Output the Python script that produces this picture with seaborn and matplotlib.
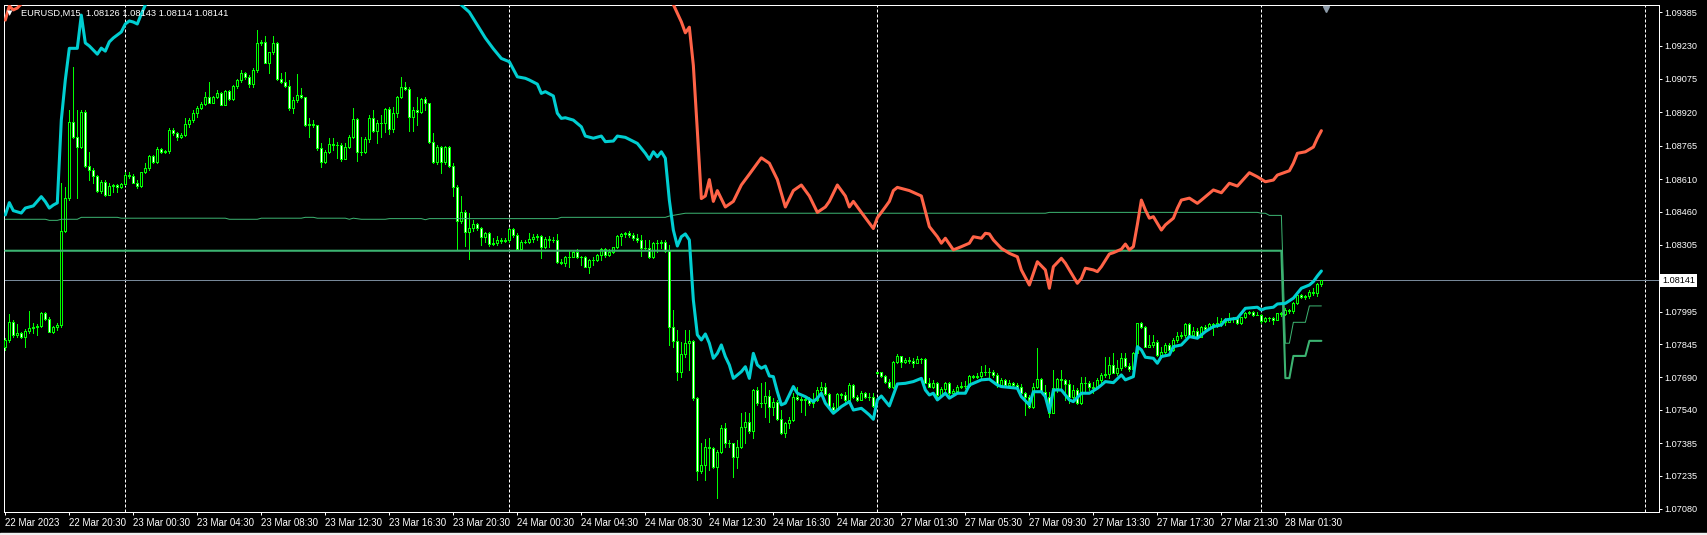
import numpy as np
import pandas as pd
import matplotlib
matplotlib.use("Agg")
import matplotlib.pyplot as plt
from matplotlib.transforms import blended_transform_factory
import seaborn as sns

# EURUSD M15, bar 0 = 22 Mar 16:30 (broker time), last bar = 28 Mar 03:45
symbol_text = "EURUSD,M15  1.08126 1.08143 1.08114 1.08141"

first_open = 1.07833
monday_open = 1.07709          # 27 Mar first bar opens with a gap

closes = [
    1.07864, 1.07949, 1.07887, 1.07895, 1.07876, 1.07907, 1.07918, 1.07923, 1.07929, 1.07988,
    1.07961, 1.07903, 1.07923, 1.07933, 1.08371, 1.08521, 1.08877, 1.08807, 1.08761, 1.08923,
    1.08673, 1.08652, 1.08625, 1.08556, 1.08595, 1.08536, 1.08580, 1.08583, 1.08572, 1.08586,
    1.08628, 1.08625, 1.08594, 1.08580, 1.08641, 1.08660, 1.08717, 1.08688, 1.08750, 1.08736,
    1.08740, 1.08838, 1.08822, 1.08804, 1.08815, 1.08864, 1.08884, 1.08915, 1.08938, 1.08958,
    1.08992, 1.08965, 1.08989, 1.09011, 1.08955, 1.09019, 1.08982, 1.09042, 1.09070, 1.09101,
    1.09082, 1.09050, 1.09116, 1.09243, 1.09248, 1.09150, 1.09198, 1.09244, 1.09076, 1.09062,
    1.09043, 1.08938, 1.08977, 1.08999, 1.08989, 1.08861, 1.08864, 1.08859, 1.08753, 1.08691,
    1.08737, 1.08773, 1.08770, 1.08767, 1.08704, 1.08758, 1.08804, 1.08888, 1.08735, 1.08738,
    1.08797, 1.08892, 1.08835, 1.08872, 1.08869, 1.08934, 1.08841, 1.08916, 1.08990, 1.09036,
    1.09027, 1.08900, 1.08931, 1.08923, 1.08981, 1.08962, 1.08781, 1.08691, 1.08761, 1.08691,
    1.08758, 1.08671, 1.08576, 1.08418, 1.08456, 1.08367, 1.08382, 1.08402, 1.08382, 1.08340,
    1.08359, 1.08309, 1.08316, 1.08328, 1.08324, 1.08327, 1.08378, 1.08351, 1.08285, 1.08320,
    1.08317, 1.08331, 1.08344, 1.08347, 1.08294, 1.08331, 1.08328, 1.08327, 1.08228, 1.08223,
    1.08248, 1.08251, 1.08274, 1.08248, 1.08249, 1.08204, 1.08235, 1.08235, 1.08257, 1.08285,
    1.08259, 1.08274, 1.08294, 1.08347, 1.08356, 1.08359, 1.08351, 1.08336, 1.08328, 1.08290,
    1.08293, 1.08248, 1.08313, 1.08316, 1.08320, 1.08278, 1.07923, 1.07861, 1.07717, 1.07799,
    1.07851, 1.07859, 1.07593, 1.07258, 1.07284, 1.07366, 1.07363, 1.07273, 1.07346, 1.07454,
    1.07385, 1.07385, 1.07323, 1.07369, 1.07459, 1.07485, 1.07443, 1.07632, 1.07570, 1.07570,
    1.07604, 1.07555, 1.07578, 1.07496, 1.07431, 1.07477, 1.07493, 1.07601, 1.07589, 1.07586,
    1.07590, 1.07570, 1.07586, 1.07632, 1.07647, 1.07613, 1.07555, 1.07539, 1.07613, 1.07607,
    1.07586, 1.07655, 1.07601, 1.07586, 1.07620, 1.07601, 1.07598, 1.07558, 1.07715, 1.07698,
    1.07671, 1.07644, 1.07763, 1.07790, 1.07763, 1.07771, 1.07766, 1.07759, 1.07777, 1.07776,
    1.07666, 1.07647, 1.07666, 1.07609, 1.07635, 1.07666, 1.07616, 1.07629, 1.07647, 1.07649,
    1.07651, 1.07697, 1.07694, 1.07695, 1.07717, 1.07714, 1.07715, 1.07701, 1.07655, 1.07678,
    1.07655, 1.07666, 1.07655, 1.07647, 1.07616, 1.07601, 1.07555, 1.07647, 1.07681, 1.07624,
    1.07598, 1.07524, 1.07640, 1.07681, 1.07678, 1.07660, 1.07601, 1.07632, 1.07573, 1.07663,
    1.07663, 1.07644, 1.07643, 1.07678, 1.07701, 1.07706, 1.07748, 1.07712, 1.07732, 1.07779,
    1.07743, 1.07728, 1.07802, 1.07941, 1.07922, 1.07833, 1.07840, 1.07856, 1.07794, 1.07810,
    1.07840, 1.07817, 1.07864, 1.07882, 1.07885, 1.07938, 1.07887, 1.07907, 1.07879, 1.07922,
    1.07916, 1.07938, 1.07932, 1.07941, 1.07953, 1.07947, 1.07963, 1.07960, 1.07941, 1.07969,
    1.07990, 1.07992, 1.07980, 1.07981, 1.07952, 1.07964, 1.07964, 1.07956, 1.07987, 1.07984,
    1.08003, 1.08000, 1.08037, 1.08072, 1.08065, 1.08066, 1.08088, 1.08080, 1.08126, 1.08141,
]

highs = [
    1.07872, 1.07984, 1.07957, 1.07938, 1.07903, 1.07913, 1.08000, 1.07941, 1.07938, 1.07995,
    1.07992, 1.07969, 1.07929, 1.07941, 1.08590, 1.08575, 1.08931, 1.09132, 1.08931, 1.08931,
    1.08931, 1.08737, 1.08660, 1.08629, 1.08606, 1.08606, 1.08590, 1.08587, 1.08586, 1.08590,
    1.08645, 1.08645, 1.08634, 1.08606, 1.08645, 1.08683, 1.08722, 1.08722, 1.08761, 1.08753,
    1.08745, 1.08846, 1.08846, 1.08830, 1.08822, 1.08892, 1.08892, 1.08931, 1.08949, 1.08969,
    1.09016, 1.09062, 1.08995, 1.09023, 1.09016, 1.09023, 1.09023, 1.09047, 1.09077, 1.09116,
    1.09108, 1.09093, 1.09124, 1.09302, 1.09255, 1.09274, 1.09201, 1.09274, 1.09248, 1.09101,
    1.09108, 1.09070, 1.08992, 1.09096, 1.09031, 1.08992, 1.08892, 1.08884, 1.08861, 1.08776,
    1.08745, 1.08799, 1.08800, 1.08784, 1.08776, 1.08777, 1.08815, 1.08939, 1.08892, 1.08804,
    1.08804, 1.08908, 1.08931, 1.08885, 1.08908, 1.08939, 1.08943, 1.08947, 1.08996, 1.09083,
    1.09063, 1.09036, 1.08947, 1.08990, 1.08985, 1.08993, 1.08962, 1.08826, 1.08769, 1.08764,
    1.08764, 1.08764, 1.08684, 1.08582, 1.08532, 1.08467, 1.08452, 1.08421, 1.08409, 1.08390,
    1.08367, 1.08367, 1.08336, 1.08347, 1.08336, 1.08336, 1.08382, 1.08382, 1.08359, 1.08328,
    1.08328, 1.08359, 1.08356, 1.08356, 1.08351, 1.08344, 1.08347, 1.08344, 1.08356, 1.08238,
    1.08254, 1.08279, 1.08282, 1.08285, 1.08254, 1.08254, 1.08238, 1.08251, 1.08263, 1.08290,
    1.08290, 1.08285, 1.08297, 1.08351, 1.08362, 1.08367, 1.08371, 1.08359, 1.08356, 1.08351,
    1.08328, 1.08328, 1.08320, 1.08328, 1.08328, 1.08328, 1.08304, 1.08003, 1.07910, 1.07856,
    1.07910, 1.07910, 1.07864, 1.07601, 1.07385, 1.07403, 1.07408, 1.07369, 1.07354, 1.07470,
    1.07477, 1.07400, 1.07385, 1.07400, 1.07524, 1.07531, 1.07524, 1.07635, 1.07647, 1.07663,
    1.07671, 1.07632, 1.07593, 1.07586, 1.07539, 1.07485, 1.07508, 1.07616, 1.07647, 1.07601,
    1.07601, 1.07601, 1.07616, 1.07644, 1.07671, 1.07663, 1.07620, 1.07570, 1.07620, 1.07620,
    1.07624, 1.07663, 1.07660, 1.07609, 1.07629, 1.07624, 1.07616, 1.07616, 1.07717, 1.07712,
    1.07701, 1.07681, 1.07768, 1.07799, 1.07790, 1.07779, 1.07787, 1.07779, 1.07790, 1.07779,
    1.07779, 1.07686, 1.07678, 1.07671, 1.07647, 1.07671, 1.07671, 1.07635, 1.07655, 1.07671,
    1.07675, 1.07701, 1.07701, 1.07709, 1.07743, 1.07748, 1.07732, 1.07725, 1.07709, 1.07686,
    1.07681, 1.07678, 1.07670, 1.07663, 1.07660, 1.07624, 1.07609, 1.07666, 1.07825, 1.07686,
    1.07655, 1.07624, 1.07725, 1.07686, 1.07725, 1.07681, 1.07678, 1.07655, 1.07640, 1.07694,
    1.07694, 1.07675, 1.07670, 1.07686, 1.07709, 1.07786, 1.07786, 1.07802, 1.07771, 1.07802,
    1.07802, 1.07755, 1.07810, 1.07944, 1.07949, 1.07929, 1.07887, 1.07887, 1.07864, 1.07833,
    1.07848, 1.07848, 1.07871, 1.07902, 1.07902, 1.07944, 1.07941, 1.07925, 1.07918, 1.07929,
    1.07933, 1.07944, 1.07944, 1.07969, 1.07964, 1.07964, 1.07987, 1.07972, 1.07957, 1.07972,
    1.07995, 1.07998, 1.07998, 1.07995, 1.07984, 1.07972, 1.07972, 1.07972, 1.07990, 1.07995,
    1.08011, 1.08006, 1.08041, 1.08077, 1.08077, 1.08072, 1.08096, 1.08103, 1.08130, 1.08143,
]

lows = [
    1.07817, 1.07856, 1.07879, 1.07879, 1.07872, 1.07833, 1.07895, 1.07895, 1.07887, 1.07926,
    1.07957, 1.07899, 1.07895, 1.07910, 1.07926, 1.08366, 1.08513, 1.08799, 1.08521, 1.08753,
    1.08668, 1.08606, 1.08590, 1.08552, 1.08544, 1.08533, 1.08547, 1.08552, 1.08552, 1.08567,
    1.08583, 1.08614, 1.08590, 1.08567, 1.08575, 1.08637, 1.08652, 1.08683, 1.08683, 1.08730,
    1.08730, 1.08730, 1.08815, 1.08791, 1.08799, 1.08810, 1.08853, 1.08877, 1.08900, 1.08934,
    1.08954, 1.08962, 1.08962, 1.08985, 1.08952, 1.08952, 1.08977, 1.08977, 1.09031, 1.09062,
    1.09077, 1.09039, 1.09039, 1.09108, 1.09232, 1.09147, 1.09104, 1.09193, 1.09070, 1.09054,
    1.09039, 1.08931, 1.08915, 1.08969, 1.08985, 1.08856, 1.08807, 1.08853, 1.08745, 1.08668,
    1.08683, 1.08730, 1.08746, 1.08707, 1.08694, 1.08702, 1.08753, 1.08800, 1.08696, 1.08722,
    1.08730, 1.08784, 1.08831, 1.08777, 1.08804, 1.08831, 1.08820, 1.08831, 1.08900, 1.08985,
    1.09024, 1.08835, 1.08835, 1.08862, 1.08916, 1.08931, 1.08780, 1.08687, 1.08681, 1.08640,
    1.08681, 1.08668, 1.08532, 1.08282, 1.08405, 1.08300, 1.08238, 1.08371, 1.08375, 1.08305,
    1.08320, 1.08300, 1.08305, 1.08305, 1.08316, 1.08320, 1.08320, 1.08344, 1.08282, 1.08282,
    1.08313, 1.08313, 1.08320, 1.08328, 1.08243, 1.08290, 1.08297, 1.08320, 1.08220, 1.08217,
    1.08208, 1.08204, 1.08248, 1.08243, 1.08212, 1.08201, 1.08174, 1.08212, 1.08232, 1.08235,
    1.08251, 1.08254, 1.08266, 1.08290, 1.08305, 1.08344, 1.08340, 1.08328, 1.08320, 1.08254,
    1.08282, 1.08243, 1.08243, 1.08274, 1.08290, 1.08274, 1.07841, 1.07833, 1.07678, 1.07694,
    1.07787, 1.07725, 1.07586, 1.07215, 1.07245, 1.07215, 1.07261, 1.07269, 1.07129, 1.07338,
    1.07369, 1.07369, 1.07227, 1.07269, 1.07361, 1.07385, 1.07431, 1.07408, 1.07562, 1.07555,
    1.07508, 1.07485, 1.07516, 1.07493, 1.07428, 1.07416, 1.07454, 1.07490, 1.07586, 1.07531,
    1.07516, 1.07562, 1.07555, 1.07582, 1.07624, 1.07609, 1.07547, 1.07531, 1.07539, 1.07593,
    1.07578, 1.07586, 1.07593, 1.07582, 1.07586, 1.07593, 1.07586, 1.07555, 1.07706, 1.07694,
    1.07663, 1.07640, 1.07640, 1.07756, 1.07740, 1.07756, 1.07759, 1.07740, 1.07763, 1.07759,
    1.07663, 1.07644, 1.07640, 1.07601, 1.07601, 1.07616, 1.07593, 1.07609, 1.07616, 1.07640,
    1.07640, 1.07647, 1.07686, 1.07686, 1.07686, 1.07701, 1.07694, 1.07694, 1.07647, 1.07650,
    1.07650, 1.07647, 1.07647, 1.07640, 1.07609, 1.07516, 1.07547, 1.07547, 1.07640, 1.07616,
    1.07585, 1.07508, 1.07570, 1.07624, 1.07632, 1.07585, 1.07570, 1.07585, 1.07567, 1.07567,
    1.07624, 1.07632, 1.07616, 1.07640, 1.07670, 1.07694, 1.07686, 1.07709, 1.07701, 1.07725,
    1.07737, 1.07721, 1.07732, 1.07825, 1.07918, 1.07830, 1.07833, 1.07833, 1.07790, 1.07786,
    1.07802, 1.07810, 1.07814, 1.07856, 1.07871, 1.07879, 1.07882, 1.07879, 1.07871, 1.07876,
    1.07902, 1.07913, 1.07887, 1.07922, 1.07929, 1.07933, 1.07949, 1.07949, 1.07938, 1.07938,
    1.07964, 1.07984, 1.07975, 1.07978, 1.07941, 1.07949, 1.07953, 1.07938, 1.07960, 1.07975,
    1.07980, 1.07990, 1.07990, 1.08031, 1.08057, 1.08052, 1.08057, 1.08072, 1.08068, 1.08114,
]

# cyan indicator line (bar, price); leaves the chart at the top between bars 36 and 113
cyan_bar = [0, 1, 2, 4, 5, 7, 9, 10, 11, 12, 13, 14, 15, 16, 18, 19, 20, 21, 22, 23,
            24, 25, 26, 27, 28, 29, 30, 31, 32, 33, 34, 35, 36, 113, 114, 116, 118, 120, 122, 124,
            126, 128, 130, 131, 133, 134, 135, 137, 138, 139, 140, 142, 144, 145, 147, 149, 150, 152, 153, 155,
            158, 160, 161, 162, 163, 164, 165, 166, 167, 168, 169, 170, 171, 172, 173, 174, 175, 176, 177, 178,
            179, 180, 181, 182, 184, 185, 186, 187, 188, 189, 190, 191, 192, 193, 194, 195, 197, 198, 200, 202,
            203, 204, 205, 207, 208, 209, 211, 212, 214, 215, 216, 217, 218, 219, 221, 222, 223, 225, 227, 229,
            230, 231, 232, 233, 235, 236, 238, 240, 241, 244, 246, 248, 249, 253, 254, 256, 257, 259, 260, 261,
            262, 264, 266, 267, 269, 271, 273, 274, 275, 277, 279, 280, 282, 283, 284, 285, 287, 288, 289, 291,
            292, 294, 296, 298, 300, 302, 304, 305, 308, 310, 313, 314, 315, 317, 318, 320, 322, 324, 326, 327,
            328, 329]
cyan_price = [1.08444, 1.08501, 1.08464, 1.08453, 1.08476, 1.08486, 1.08529, 1.08506, 1.08476, 1.08490,
              1.08500, 1.08884, 1.09070, 1.09217, 1.09217, 1.09371, 1.09242, 1.09228, 1.09209, 1.09190,
              1.09218, 1.09204, 1.09247, 1.09265, 1.09279, 1.09293, 1.09330, 1.09344, 1.09339, 1.09330,
              1.09376, 1.09418, 1.09460, 1.09450, 1.09418, 1.09385, 1.09325, 1.09265, 1.09215, 1.09170,
              1.09155, 1.09085, 1.09078, 1.09070, 1.09051, 1.09008, 1.09016, 1.08996, 1.08916, 1.08892,
              1.08895, 1.08884, 1.08853, 1.08810, 1.08800, 1.08810, 1.08784, 1.08787, 1.08810, 1.08804,
              1.08776, 1.08730, 1.08702, 1.08737, 1.08714, 1.08737, 1.08707, 1.08513, 1.08374, 1.08300,
              1.08343, 1.08356, 1.08328, 1.08050, 1.07888, 1.07864, 1.07892, 1.07849, 1.07779, 1.07802,
              1.07841, 1.07787, 1.07748, 1.07686, 1.07717, 1.07740, 1.07686, 1.07802, 1.07748, 1.07733,
              1.07743, 1.07697, 1.07694, 1.07624, 1.07563, 1.07571, 1.07648, 1.07617, 1.07601, 1.07578,
              1.07594, 1.07617, 1.07571, 1.07524, 1.07539, 1.07555, 1.07578, 1.07539, 1.07547, 1.07532,
              1.07516, 1.07496, 1.07586, 1.07604, 1.07558, 1.07609, 1.07660, 1.07663, 1.07671, 1.07686,
              1.07632, 1.07609, 1.07617, 1.07586, 1.07617, 1.07594, 1.07617, 1.07617, 1.07655, 1.07679,
              1.07682, 1.07655, 1.07648, 1.07640, 1.07601, 1.07563, 1.07624, 1.07624, 1.07601, 1.07532,
              1.07632, 1.07632, 1.07586, 1.07578, 1.07617, 1.07617, 1.07640, 1.07655, 1.07671, 1.07666,
              1.07702, 1.07679, 1.07694, 1.07833, 1.07818, 1.07784, 1.07779, 1.07756, 1.07787, 1.07795,
              1.07833, 1.07841, 1.07880, 1.07872, 1.07903, 1.07926, 1.07934, 1.07957, 1.07965, 1.08011,
              1.08016, 1.08003, 1.08011, 1.08016, 1.08031, 1.08034, 1.08058, 1.08104, 1.08119, 1.08135,
              1.08161, 1.08184]

# orange indicator line; off the chart between bars 5 and 166
orange_bar = [0, 1, 2, 3, 4, 5, 166, 167, 169, 170, 171, 172, 173, 174, 175, 176, 177, 178, 180, 182,
              184, 186, 188, 189, 191, 193, 195, 197, 199, 201, 203, 205, 206, 208, 210, 211, 212, 214, 216, 217,
              218, 220, 221, 222, 223, 226, 229, 231, 233, 234, 235, 237, 239, 241, 242, 244, 245, 246, 247, 249,
              251, 253, 254, 256, 257, 258, 260, 261, 262, 264, 265, 267, 268, 269, 270, 272, 273, 274, 276, 277,
              279, 280, 281, 282, 283, 284, 285, 286, 287, 289, 290, 292, 293, 294, 296, 298, 299, 302, 304, 306,
              308, 311, 313, 315, 317, 318, 321, 322, 323, 325, 327, 328, 329]
orange_price = [1.09348, 1.09413, 1.09395, 1.09404, 1.09423, 1.09450, 1.09460, 1.09420, 1.09340, 1.09289,
                1.09315, 1.09138, 1.08835, 1.08520, 1.08532, 1.08608, 1.08507, 1.08557, 1.08481, 1.08507,
                1.08583, 1.08633, 1.08684, 1.08709, 1.08684, 1.08608, 1.08481, 1.08557, 1.08583, 1.08532,
                1.08456, 1.08481, 1.08507, 1.08583, 1.08532, 1.08481, 1.08507, 1.08456, 1.08406, 1.08381,
                1.08431, 1.08481, 1.08507, 1.08557, 1.08572, 1.08557, 1.08532, 1.08390, 1.08343, 1.08313,
                1.08336, 1.08282, 1.08297, 1.08313, 1.08343, 1.08336, 1.08359, 1.08356, 1.08328, 1.08289,
                1.08266, 1.08250, 1.08189, 1.08119, 1.08173, 1.08227, 1.08189, 1.08104, 1.08204, 1.08243,
                1.08220, 1.08158, 1.08127, 1.08150, 1.08197, 1.08189, 1.08181, 1.08204, 1.08263, 1.08269,
                1.08285, 1.08309, 1.08282, 1.08297, 1.08400, 1.08513, 1.08467, 1.08429, 1.08436, 1.08374,
                1.08398, 1.08429, 1.08475, 1.08513, 1.08522, 1.08498, 1.08513, 1.08560, 1.08547, 1.08591,
                1.08578, 1.08640, 1.08621, 1.08598, 1.08606, 1.08629, 1.08649, 1.08684, 1.08730, 1.08737,
                1.08759, 1.08800, 1.08835]

# thin green level line
level_bar = [0, 10, 11, 13, 14, 18, 19, 28, 29, 55, 56, 63, 64, 74, 75, 77, 78, 85, 86, 87,
             89, 95, 96, 104, 105, 106, 138, 139, 165, 166, 170, 260, 261, 313, 314, 315, 316, 319, 320, 321,
             322, 325, 326, 329]
level_price = [1.08424, 1.08424, 1.08419, 1.08419, 1.08424, 1.08424, 1.08433, 1.08433, 1.08429, 1.08429,
               1.08424, 1.08424, 1.08429, 1.08429, 1.08433, 1.08433, 1.08429, 1.08429, 1.08424, 1.08429,
               1.08424, 1.08424, 1.08427, 1.08427, 1.08422, 1.08427, 1.08427, 1.08433, 1.08433, 1.08439,
               1.08452, 1.08452, 1.08456, 1.08456, 1.08452, 1.08452, 1.08442, 1.08442, 1.07849, 1.07849,
               1.07946, 1.07946, 1.08022, 1.08022]

# thick green level line
base_bar = [0, 319, 320, 321, 322, 325, 326, 329]
base_price = [1.08278, 1.08278, 1.07687, 1.07687, 1.07790, 1.07790, 1.07860, 1.07860]

day_starts = [30, 126, 218, 314, 410]   # 23, 24, 27, 28, 29 Mar 00:00

time_label_bars = list(range(0, 321, 16))
time_labels = ["22 Mar 2023", "22 Mar 20:30", "23 Mar 00:30", "23 Mar 04:30", "23 Mar 08:30",
               "23 Mar 12:30", "23 Mar 16:30", "23 Mar 20:30", "24 Mar 00:30", "24 Mar 04:30",
               "24 Mar 08:30", "24 Mar 12:30", "24 Mar 16:30", "24 Mar 20:30", "27 Mar 01:30",
               "27 Mar 05:30", "27 Mar 09:30", "27 Mar 13:30", "27 Mar 17:30", "27 Mar 21:30",
               "28 Mar 01:30"]

price_ticks = [1.09385, 1.09230, 1.09075, 1.08920, 1.08765, 1.08610, 1.08460, 1.08305,
               1.07995, 1.07845, 1.07690, 1.07540, 1.07385, 1.07235, 1.07080]

LIME = "#00ff00"
PX = 0.72  # one pixel in points

sns.set_theme(style="dark", rc={"axes.facecolor": "black", "figure.facecolor": "black"})
plt.rcParams["font.family"] = ["Liberation Sans", "DejaVu Sans"]

fig = plt.figure(figsize=(17.07, 5.35), dpi=100, facecolor="black")
ax = fig.add_axes([4 / 1707, 23 / 535, 1655 / 1707, 507 / 535])
ax.set_facecolor("black")

# candles
c = np.array(closes)
bars = np.arange(len(c))
o = np.r_[first_open, c[:-1]]
o[day_starts[2]] = monday_open
h = np.maximum(np.array(highs), np.maximum(o, c))
l = np.minimum(np.array(lows), np.minimum(o, c))

ax.vlines(bars, l, h, color=LIME, lw=PX, zorder=3, antialiased=False)
ax.bar(bars, np.abs(c - o), bottom=np.minimum(o, c), width=0.5,
       color=np.where(c < o, "white", "black"), edgecolor=LIME, linewidth=PX,
       zorder=4, antialiased=False)

# day separators and current price
for b in day_starts:
    ax.axvline(b, color="white", lw=PX, ls=(0, (3, 2)), zorder=1)
ax.axhline(c[-1], color="#778899", lw=PX, zorder=2)

# indicator lines
lines = pd.DataFrame({"bar": base_bar, "price": base_price})
sns.lineplot(data=lines, x="bar", y="price", ax=ax, color="#3cb371", linewidth=1.5,
             sort=False, estimator=None, legend=False, zorder=5)
lines = pd.DataFrame({"bar": level_bar, "price": level_price})
sns.lineplot(data=lines, x="bar", y="price", ax=ax, color="#3cb371", linewidth=PX,
             sort=False, estimator=None, legend=False, zorder=5)
lines = pd.DataFrame({"bar": orange_bar, "price": orange_price})
sns.lineplot(data=lines, x="bar", y="price", ax=ax, color="#ff6347", linewidth=2.2,
             sort=False, estimator=None, legend=False, zorder=6)
lines = pd.DataFrame({"bar": cyan_bar, "price": cyan_price})
sns.lineplot(data=lines, x="bar", y="price", ax=ax, color="#00ced1", linewidth=2.2,
             sort=False, estimator=None, legend=False, zorder=6)

ax.set_xlim(-0.325, 413.4)
ax.set_ylim(1.07066, 1.09418)
ax.set_xlabel("")
ax.set_ylabel("")
ax.grid(False)

for s in ax.spines.values():
    s.set_color("white")
    s.set_linewidth(PX)
    s.set_visible(True)

ax.yaxis.tick_right()
ax.set_yticks(price_ticks)
ax.set_yticklabels([f"{p:.5f}" for p in price_ticks])
ax.tick_params(axis="y", colors="white", labelcolor="white", labelsize=6.6,
               length=2, width=PX, pad=1.5, right=True, left=False)
ax.set_xticks(time_label_bars)
ax.set_xticklabels(time_labels)
ax.tick_params(axis="x", colors="white", labelcolor="white", labelsize=7,
               length=2.5, width=PX, pad=1.5, bottom=True)
for t in ax.get_xticklabels():
    t.set_ha("left")
    t.set_family(["Liberation Sans Narrow", "Liberation Sans"])

# current price box on the scale
ax.annotate(f"{c[-1]:.5f}", xy=(1, c[-1]), xycoords=("axes fraction", "data"),
            xytext=(2.2, 0), textcoords="offset points", va="center", ha="left",
            fontsize=6.6, color="black",
            bbox=dict(boxstyle="square,pad=0.2", fc="white", ec="none"))

# chart shift marker
ax.plot([len(c) + 0.2], [0.992], marker="v", ms=5, color="#8c9aa8",
        transform=blended_transform_factory(ax.transData, ax.transAxes), clip_on=False, zorder=7)

# header
fig.text(7 / 1707, 1 - 13 / 535, "\u25bc", fontsize=5, color="white", va="center", ha="left",
         family=["DejaVu Sans"])
fig.text(21 / 1707, 1 - 13 / 535, symbol_text, fontsize=6.7, color="white", va="center", ha="left")

# window edge at the bottom
fig.patches.append(plt.Rectangle((0, 0), 1, 2.5 / 535, transform=fig.transFigure,
                                 color="#f0f0f0", zorder=0))

fig.savefig("out.png", dpi=100, facecolor="black")
